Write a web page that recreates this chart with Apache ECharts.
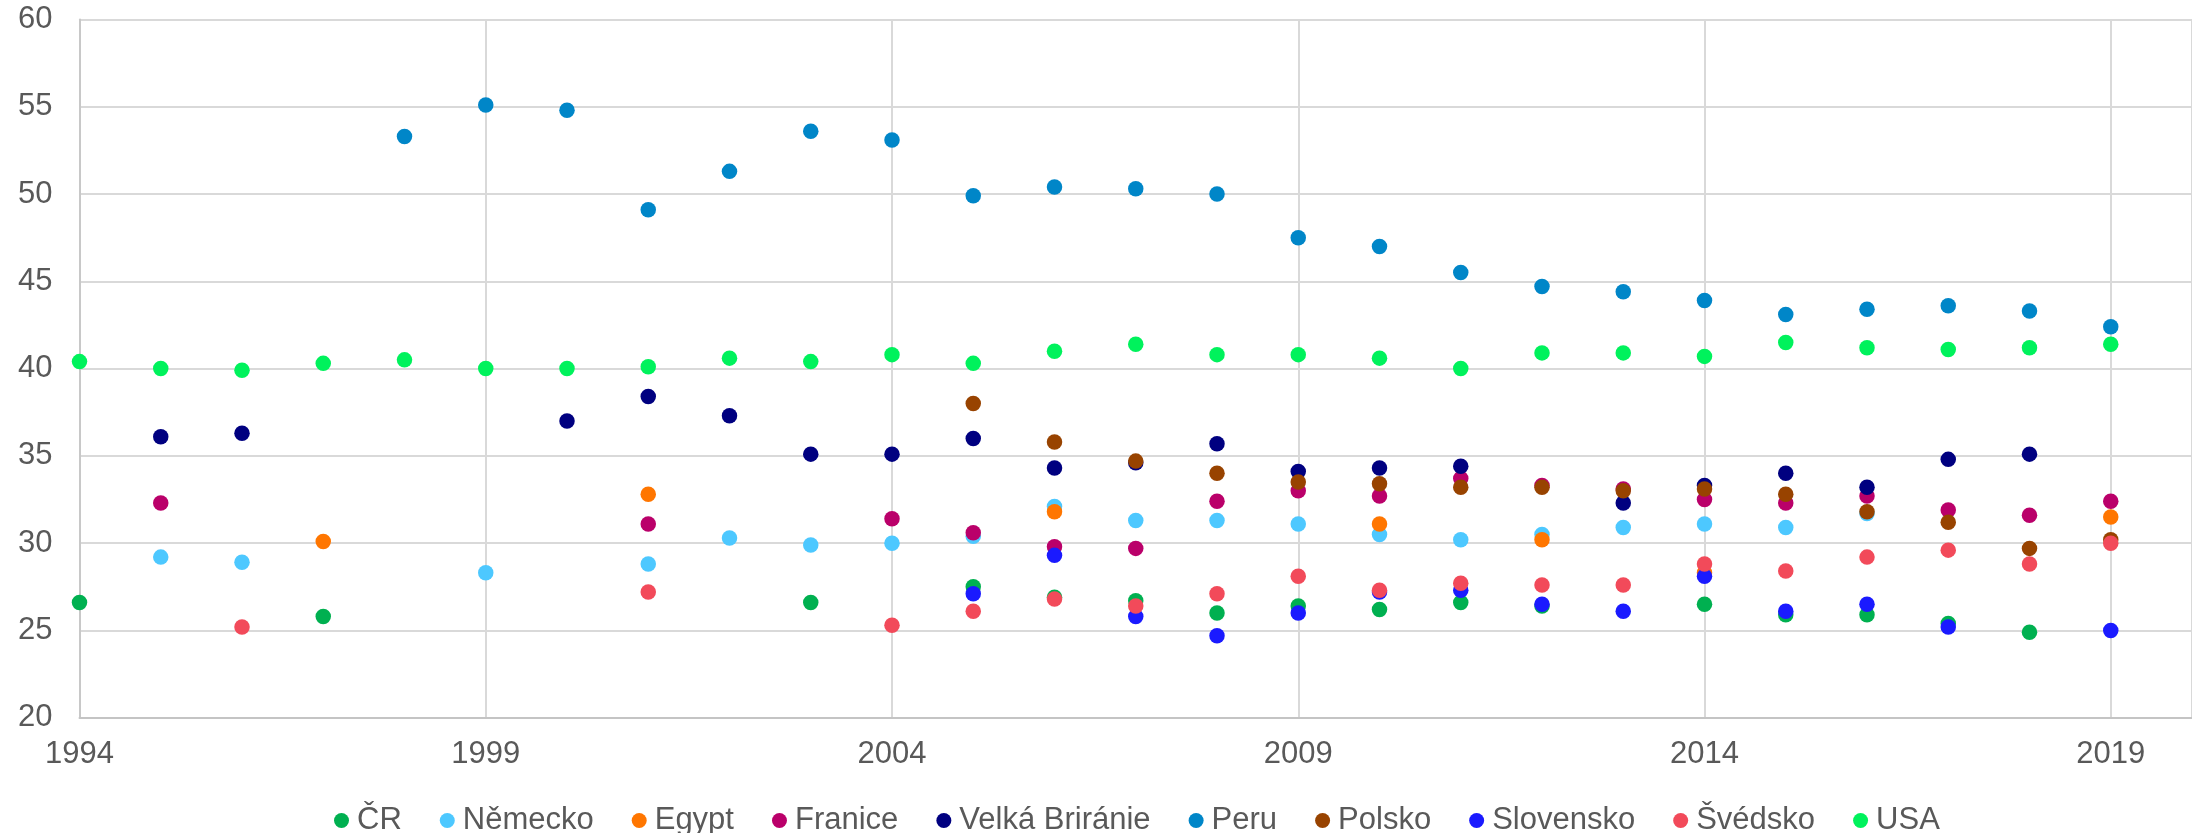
<!DOCTYPE html>
<html>
<head>
<meta charset="utf-8">
<script src="https://cdn.jsdelivr.net/npm/echarts@6/dist/echarts.min.js"></script>
<style>
html,body{margin:0;padding:0;background:#fff;}
#chart{width:2192px;height:833px;}
</style>
</head>
<body>
<div id="chart"></div>
<script>
const years = [1994,1995,1996,1997,1998,1999,2000,2001,2002,2003,2004,2005,2006,2007,2008,2009,2010,2011,2012,2013,2014,2015,2016,2017,2018,2019];

const cr        = [26.6,null,null,25.8,null,null,null,null,null,26.6,null,27.5,26.9,26.7,26.0,26.4,26.2,26.6,26.4,null,26.5,25.9,25.9,25.4,24.9,null];
const nemecko   = [null,29.2,28.9,null,null,28.3,null,28.8,30.3,29.9,30.0,30.4,32.1,31.3,31.3,31.1,30.5,30.2,30.5,30.9,31.1,30.9,31.7,null,null,null];
const egypt     = [null,null,null,30.1,null,null,null,32.8,null,null,null,null,31.8,null,null,null,31.1,null,30.2,null,28.3,null,null,null,null,31.5];
const francie   = [null,32.3,null,null,null,null,null,31.1,null,null,31.4,30.6,29.8,29.7,32.4,33.0,32.7,33.7,33.3,33.1,32.5,32.3,32.7,31.9,31.6,32.4];
const britanie  = [null,36.1,36.3,null,null,null,37.0,38.4,37.3,35.1,35.1,36.0,34.3,34.6,35.7,34.1,34.3,34.4,null,32.3,33.3,34.0,33.2,34.8,35.1,null];
const peru      = [null,null,null,null,53.3,55.1,54.8,49.1,51.3,53.6,53.1,49.9,50.4,50.3,50.0,47.5,47.0,45.5,44.7,44.4,43.9,43.1,43.4,43.6,43.3,42.4];
const polsko    = [null,null,null,null,null,null,null,null,null,null,null,38.0,35.8,34.7,34.0,33.5,33.4,33.2,33.2,33.0,33.1,32.8,31.8,31.2,29.7,30.2];
const slovensko = [null,null,null,null,null,null,null,null,null,null,null,27.1,29.3,25.8,24.7,26.0,27.2,27.3,26.5,26.1,28.1,26.1,26.5,25.2,null,25.0];
const svedsko   = [null,null,25.2,null,null,null,null,27.2,null,null,25.3,26.1,26.8,26.4,27.1,28.1,27.3,27.7,27.6,27.6,28.8,28.4,29.2,29.6,28.8,30.0];
const usa       = [40.4,40.0,39.9,40.3,40.5,40.0,40.0,40.1,40.6,40.4,40.8,40.3,41.0,41.4,40.8,40.8,40.6,40.0,40.9,40.9,40.7,41.5,41.2,41.1,41.2,41.4];

const seriesNames = ['ČR','Německo','Egypt','Franice','Velká Briránie','Peru','Polsko','Slovensko','Švédsko','USA'];
const seriesValues = [cr,nemecko,egypt,francie,britanie,peru,polsko,slovensko,svedsko,usa];
const seriesColors = ['#00B050','#4DC8FF','#FF7600','#BA006A','#000080','#0086C8','#984300','#1A1AFF','#F24A5A','#00F25C'];

const textColor = '#595959';
const fontFamily = "'Liberation Sans', Arial, sans-serif";

function pairs(vals){
  const out = [];
  vals.forEach((v,i)=>{ if(v!==null) out.push([years[i], v]); });
  return out;
}

const chart = echarts.init(document.getElementById('chart'), null, {renderer:'canvas'});
chart.setOption({
  animation: false,
  backgroundColor: '#ffffff',
  textStyle: {fontFamily: fontFamily},
  grid: {left: 79.5, right: 0, top: 19.5, bottom: 115.3, containLabel: false},
  xAxis: {
    type: 'value', min: 1994, max: 2020, interval: 5,
    axisLine: {show: true, lineStyle: {color: '#C4C4C4', width: 2}},
    axisTick: {show: false},
    splitLine: {show: true, lineStyle: {color: '#D9D9D9', width: 2}},
    axisLabel: {color: textColor, fontSize: 31, fontFamily: fontFamily, margin: 21, showMaxLabel: false,
      formatter: v => String(v)}
  },
  yAxis: {
    type: 'value', min: 20, max: 60, interval: 5,
    axisLine: {show: true, lineStyle: {color: '#C8C8C8', width: 2}},
    axisTick: {show: false},
    splitLine: {show: true, lineStyle: {color: '#D9D9D9', width: 2}},
    axisLabel: {color: textColor, fontSize: 31, fontFamily: fontFamily, margin: 27}
  },
  legend: {
    left: 329, top: 800,
    icon: 'circle', itemWidth: 15, itemHeight: 15, itemGap: 38,
    textStyle: {color: textColor, fontSize: 31, fontFamily: fontFamily, padding: [0,0,0,3]},
    data: seriesNames
  },
  series: seriesNames.map((name,k)=>({
    name: name, type: 'scatter', symbol: 'circle', symbolSize: 15.5,
    itemStyle: {color: seriesColors[k], opacity: 1},
    data: pairs(seriesValues[k])
  }))
});
</script>
</body>
</html>
